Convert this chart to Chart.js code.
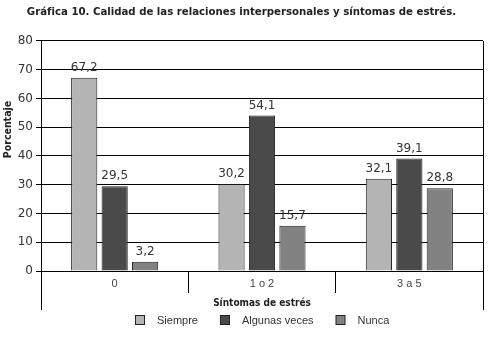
<!DOCTYPE html>
<html lang="es">
<head>
<meta charset="utf-8">
<script src="https://cdn.jsdelivr.net/npm/chart.js@4.4.1/dist/chart.umd.min.js"></script>
<style>
  html, body { margin: 0; padding: 0; background: #fff; }
  #wrap { width: 493px; height: 337px; }
</style>
</head>
<body>
<div id="wrap"><canvas id="chart"></canvas></div>
<script>
// ── DATA ──────────────────────────────────────────────────────────────────
const CATEGORIES    = ['0', '1 o 2', '3 a 5'];
const SERIES_NAMES  = ['Siempre', 'Algunas veces', 'Nunca'];
const SIEMPRE       = [67.2, 30.2, 32.1];
const ALGUNAS_VECES = [29.5, 54.1, 39.1];
const NUNCA         = [3.2, 15.7, 28.8];
const Y_MIN = 0, Y_MAX = 80, Y_STEP = 10;

const COLORS = ['#b4b4b4', '#4a4a4a', '#828282'];
const COND  = "'DejaVu Sans Condensed', 'DejaVu Sans', sans-serif";
const PLAIN = "'Liberation Sans', Arial, sans-serif";

Chart.defaults.font.family = "'DejaVu Sans', sans-serif";
Chart.defaults.color = '#333';

// pixel snapping for 1px strokes, same rule Chart.js uses
const snap = v => Math.round(v - 0.5) + 0.5;

// ── PLUGINS ───────────────────────────────────────────────────────────────

// value above each bar, decimal comma
const valueLabels = {
  id: 'valueLabels',
  afterDatasetsDraw(chart) {
    const ctx = chart.ctx;
    ctx.save();
    ctx.font = "12px 'DejaVu Sans', sans-serif";
    ctx.fillStyle = '#333';
    ctx.textAlign = 'center';
    ctx.textBaseline = 'bottom';
    chart.data.datasets.forEach((ds, i) => {
      chart.getDatasetMeta(i).data.forEach((bar, j) => {
        ctx.fillText(ds.data[j].toFixed(1).replace('.', ','), bar.x, bar.y - 4);
      });
    });
    ctx.restore();
  },
};

// right border, long outer separators under the category axis, y title
const frame = {
  id: 'frame',
  afterDraw(chart) {
    const { ctx, chartArea: a } = chart;
    const ext = 39;
    ctx.save();
    ctx.strokeStyle = '#000';
    ctx.lineWidth = 1;
    ctx.beginPath();
    ctx.moveTo(snap(a.right), a.top);
    ctx.lineTo(snap(a.right), a.bottom + ext);
    ctx.moveTo(snap(a.left), a.bottom);
    ctx.lineTo(snap(a.left), a.bottom + ext);
    ctx.stroke();

    // "Porcentaje", sitting a little above the middle of the value axis
    ctx.translate(8, a.top + (a.bottom - a.top) * 0.385);
    ctx.rotate(-Math.PI / 2);
    ctx.font = 'bold 10.5px ' + COND;
    ctx.fillStyle = '#222';
    ctx.textAlign = 'center';
    ctx.textBaseline = 'middle';
    ctx.fillText('Porcentaje', 0, 0);
    ctx.restore();
  },
};

// legend row under the axis title
const boxLegend = {
  id: 'boxLegend',
  afterDraw(chart) {
    const { ctx, chartArea: a } = chart;
    const box = 9, gap = 13, spacing = 22, cy = 320;
    ctx.save();
    ctx.font = '11px ' + PLAIN;
    const items = chart.data.datasets.map(ds => ({
      label: ds.label, color: ds.backgroundColor, w: ctx.measureText(ds.label).width,
    }));
    const total = items.reduce((s, it) => s + box + gap + it.w, 0) + spacing * (items.length - 1);
    let x = Math.round((a.left + a.right) / 2 - total / 2);
    ctx.textBaseline = 'middle';
    ctx.textAlign = 'left';
    items.forEach(it => {
      ctx.fillStyle = it.color;
      ctx.fillRect(x + 0.5, cy - 4.5, box, box);
      ctx.strokeStyle = '#222';
      ctx.lineWidth = 1;
      ctx.strokeRect(x + 0.5, cy - 4.5, box, box);
      ctx.fillStyle = '#333';
      ctx.fillText(it.label, x + box + gap, cy + 1);
      x += box + gap + it.w + spacing;
    });
    ctx.restore();
  },
};

// ── CHART ─────────────────────────────────────────────────────────────────

const bar = (label, data, color) => ({
  label,
  data,
  backgroundColor: color,
  borderColor: '#222',
  borderWidth: 1,
  categoryPercentage: 0.62,
  barPercentage: 0.86,
});

new Chart(document.getElementById('chart'), {
  type: 'bar',
  data: {
    labels: CATEGORIES,
    datasets: [
      bar(SERIES_NAMES[0], SIEMPRE, COLORS[0]),
      bar(SERIES_NAMES[1], ALGUNAS_VECES, COLORS[1]),
      bar(SERIES_NAMES[2], NUNCA, COLORS[2]),
    ],
  },
  options: {
    responsive: true,
    maintainAspectRatio: false,
    animation: false,
    layout: { padding: { left: 0, right: 10, top: 0, bottom: 28 } },
    plugins: {
      legend: { display: false },
      tooltip: { enabled: false },
      title: {
        display: true,
        text: 'Gráfica 10. Calidad de las relaciones interpersonales y síntomas de estrés.',
        color: '#222',
        font: { family: COND, size: 11.3, weight: 'bold' },
        padding: { top: 5, bottom: 22.4 },
      },
    },
    scales: {
      x: {
        afterFit: s => { s.height = 38; },
        grid: {
          offset: true,
          drawOnChartArea: false,
          tickLength: 22,
          // the two outer separators are drawn longer by the frame plugin
          color: c => (c.index === 0 || c.index === CATEGORIES.length) ? 'rgba(0,0,0,0)' : '#000',
        },
        border: { color: '#000' },
        ticks: {
          padding: -16,
          color: '#444',
          font: { family: PLAIN, size: 11 },
        },
        title: {
          display: true,
          text: 'Síntomas de estrés',
          color: '#222',
          font: { family: COND, size: 10, weight: 'bold' },
          padding: 0,
        },
      },
      y: {
        min: Y_MIN,
        max: Y_MAX,
        afterFit: s => { s.width = 41; },
        grid: { color: '#000', tickLength: 5 },
        border: { color: '#000' },
        ticks: {
          stepSize: Y_STEP,
          padding: 3,
          color: '#333',
          font: { size: 12 },
        },
      },
    },
  },
  plugins: [valueLabels, frame, boxLegend],
});
</script>
</body>
</html>
